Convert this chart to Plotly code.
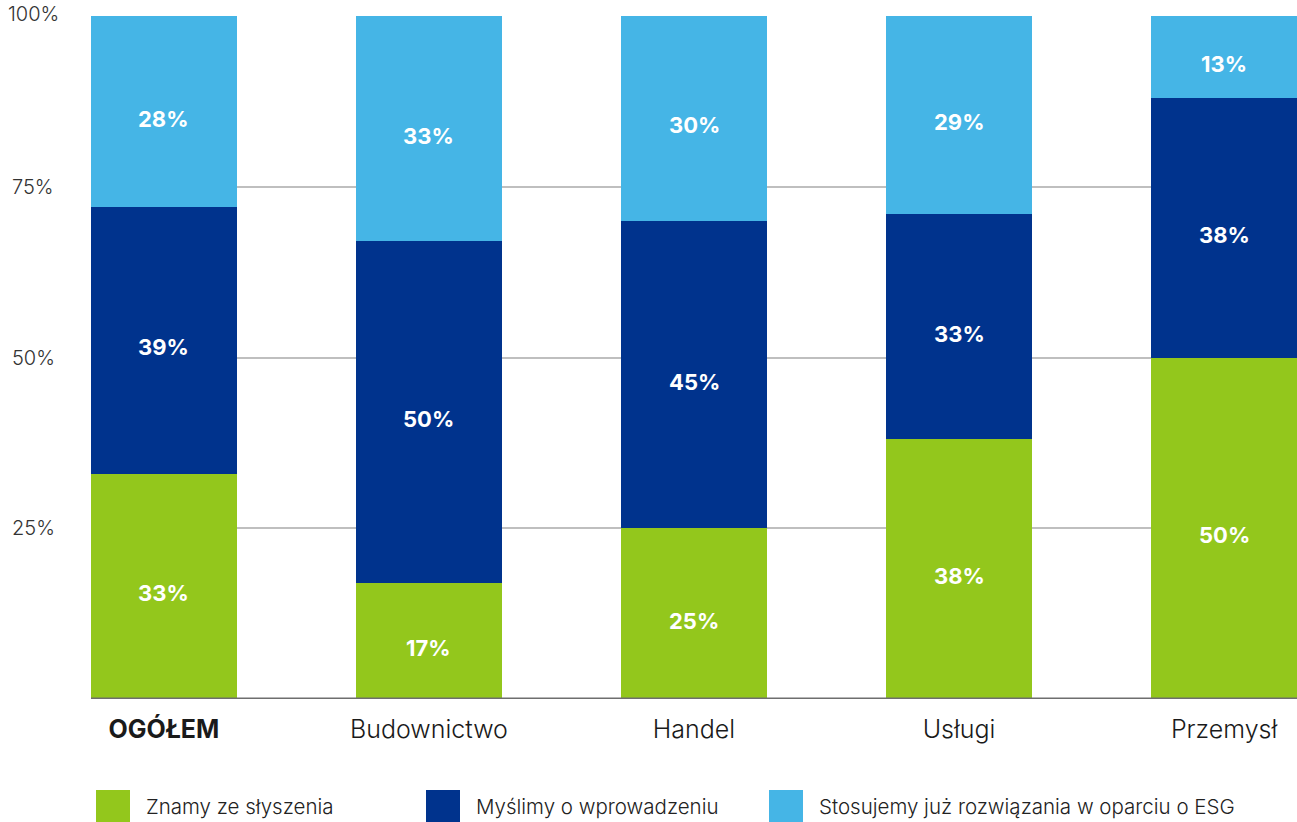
import plotly.graph_objects as go

# Survey categories and shares (%)
categories = ["OGÓŁEM", "Budownictwo", "Handel", "Usługi", "Przemysł"]
tick_labels = ["<b>OGÓŁEM</b>", "Budownictwo", "Handel", "Usługi", "Przemysł"]
series_names = [
    "Znamy ze słyszenia",
    "Myślimy o wprowadzeniu",
    "Stosujemy już rozwiązania w oparciu o ESG",
]
znamy = [33, 17, 25, 38, 50]
myslimy = [39, 50, 45, 33, 38]
stosujemy = [28, 33, 30, 29, 13]
y_ticks = [25, 50, 75, 100]

colors = ["#93C71C", "#00338D", "#45B5E6"]
FONT = "Inter"

W, H = 1297, 822
ML, MR, MT, MB = 91, 0, 16, 123
plot_w = W - ML - MR
plot_h = H - MT - MB
Y_MAX = 100

fig = go.Figure()
x_idx = list(range(len(categories)))
annotations = []
base = [0] * len(categories)
for name, vals, col in zip(series_names, [znamy, myslimy, stosujemy], colors):
    fig.add_trace(go.Bar(
        x=x_idx, y=vals, name=name,
        marker=dict(color=col, line=dict(width=0)),
        width=0.55,
        showlegend=False,
        hoverinfo="skip",
    ))
    # value labels centred on the visible part of each segment
    for i, v in enumerate(vals):
        lo = base[i]
        hi = min(base[i] + v, Y_MAX)
        annotations.append(dict(
            x=i, y=(lo + hi) / 2, xref="x", yref="y", yshift=-7,
            text=f"{v}%", showarrow=False, xanchor="center", yanchor="middle",
            font=dict(family=FONT, size=22, color="white", weight=700),
        ))
        base[i] += v

# Baseline under the bars
fig.add_shape(type="line", xref="paper", yref="y", x0=0, x1=1, y0=0, y1=0,
              line=dict(color="#6E6E6E", width=3), layer="above")

# Y tick labels, centred in the left margin
for t in y_ticks:
    annotations.append(dict(
        x=0, xref="paper", xshift=-58, y=t, yref="y", yshift=2 if t == 100 else 0,
        text=f"{t}%", showarrow=False, xanchor="center", yanchor="middle",
        font=dict(family=FONT, size=20, color="#333333", weight=300),
    ))

# Custom legend: large squares with labels
legend_x = [96, 426, 769]
for px, name, col in zip(legend_x, series_names, colors):
    x0 = (px - ML) / plot_w
    x1 = (px + 34 - ML) / plot_w
    y0 = -(790 - (MT + plot_h)) / plot_h
    y1 = -(822 - (MT + plot_h)) / plot_h
    fig.add_shape(type="rect", xref="paper", yref="paper", x0=x0, x1=x1,
                  y0=y1, y1=y0, fillcolor=col, line=dict(width=0))
    annotations.append(dict(
        x=(px + 48 - ML) / plot_w, xref="paper",
        y=-(806 - (MT + plot_h)) / plot_h, yref="paper",
        text=name, showarrow=False, xanchor="left", yanchor="middle",
        font=dict(family=FONT, size=20.5, color="#222222", weight=300),
    ))

fig.update_layout(
    width=W, height=H,
    margin=dict(l=ML, r=MR, t=MT, b=MB),
    barmode="stack",
    bargap=0,
    plot_bgcolor="white",
    paper_bgcolor="white",
    annotations=annotations,
)
fig.update_xaxes(
    range=[-0.275, 4.275],
    tickmode="array", tickvals=x_idx, ticktext=tick_labels,
    showgrid=False, zeroline=False, showline=False, ticks="",
    tickfont=dict(family=FONT, size=25, color="#1A1A1A", weight=300),
    ticklabelstandoff=13,
    fixedrange=True,
)
fig.update_yaxes(
    range=[0, Y_MAX],
    tickvals=y_ticks, showticklabels=False,
    showgrid=True, gridcolor="#BFBFBF", gridwidth=2,
    zeroline=False, showline=False,
    fixedrange=True,
)

fig.write_html("out.html", config={"displayModeBar": False})
